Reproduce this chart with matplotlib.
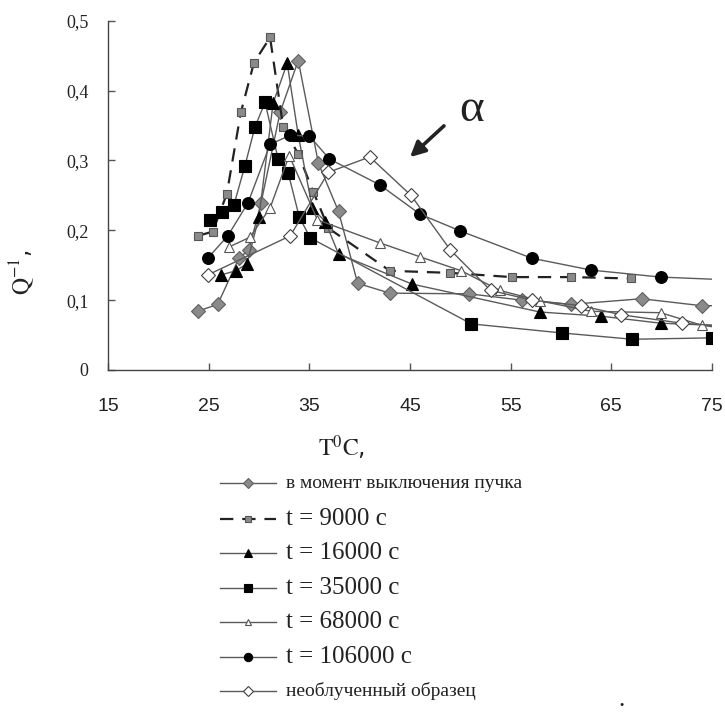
import matplotlib
matplotlib.use("Agg")
import matplotlib.pyplot as plt
from matplotlib.lines import Line2D

# ---------------- data ----------------
beam_T = [23.9, 25.9, 28.0, 29.0, 30.2, 32.1, 33.9, 35.9, 37.9, 39.8, 43.0, 50.9, 56.1, 61.0, 68.0, 74.0, 75.0]
beam_Q = [0.084, 0.094, 0.160, 0.172, 0.239, 0.369, 0.443, 0.296, 0.227, 0.124, 0.110, 0.109, 0.100, 0.094, 0.102, 0.092, 0.092]

t9_T = [23.9, 25.4, 26.8, 28.2, 29.5, 31.1, 32.4, 33.9, 35.4, 36.9, 43.0, 49.0, 55.1, 61.0, 67.0]
t9_Q = [0.192, 0.198, 0.252, 0.369, 0.440, 0.476, 0.348, 0.309, 0.255, 0.203, 0.142, 0.139, 0.133, 0.133, 0.131]

t16_T = [26.2, 27.7, 28.8, 30.0, 31.4, 32.8, 33.9, 35.3, 36.6, 37.9, 45.2, 57.9, 64.0, 69.9, 75.0]
t16_Q = [0.136, 0.142, 0.152, 0.219, 0.382, 0.439, 0.336, 0.232, 0.212, 0.166, 0.123, 0.083, 0.077, 0.067, 0.064]

t35_T = [25.1, 26.3, 27.5, 28.6, 29.6, 30.6, 31.9, 32.9, 34.0, 35.1, 51.1, 60.1, 67.1, 75.0]
t35_Q = [0.215, 0.226, 0.236, 0.292, 0.348, 0.383, 0.302, 0.282, 0.219, 0.189, 0.066, 0.053, 0.044, 0.046]

t68_T = [27.0, 29.1, 31.1, 33.0, 35.8, 42.0, 46.0, 50.1, 53.9, 57.9, 63.0, 69.9, 74.0, 75.0]
t68_Q = [0.176, 0.190, 0.232, 0.307, 0.215, 0.182, 0.162, 0.142, 0.114, 0.099, 0.084, 0.082, 0.064, 0.062]

t106_T = [24.9, 26.9, 28.9, 31.1, 33.1, 35.0, 37.0, 42.0, 46.0, 50.0, 57.1, 63.0, 69.9, 75.0]
t106_Q = [0.160, 0.192, 0.239, 0.323, 0.336, 0.335, 0.302, 0.265, 0.223, 0.199, 0.160, 0.143, 0.133, 0.130]

un_T = [24.9, 33.1, 36.9, 41.0, 45.1, 49.0, 53.0, 57.1, 62.0, 66.0, 72.0, 75.0]
un_Q = [0.136, 0.192, 0.283, 0.305, 0.250, 0.172, 0.114, 0.100, 0.092, 0.079, 0.067, 0.064]

x_ticks = [15, 25, 35, 45, 55, 65, 75]
y_ticks = [0, 0.1, 0.2, 0.3, 0.4, 0.5]
y_tick_labels = ["0", "0,1", "0,2", "0,3", "0,4", "0,5"]

labels = ["в момент выключения пучка", "t = 9000 c", "t = 16000 c", "t = 35000 c",
          "t = 68000 c", "t = 106000 c", "необлученный образец"]

# ---------------- styles ----------------
plt.rcParams['mathtext.fontset'] = 'stix'
SERIF = ['Liberation Serif', 'DejaVu Serif']
SANS = ['Liberation Sans', 'DejaVu Sans']
LC = '#5a5a5a'
GRAY = '#8a8a8a'

W, H = 725, 717
fig = plt.figure(figsize=(W / 100, H / 100), dpi=100)
L, R, T, B = 108, 712, 20.7, 370
ax = fig.add_axes([L / W, 1 - B / H, (R - L) / W, (B - T) / H])

def last_excluded(n):
    return list(range(n - 1))

styles = [
    dict(T=beam_T, Q=beam_Q, ls='-', lc=LC, lw=1.0, m='D', ms=7, mfc=GRAY, mec='#606060', mark=last_excluded(len(beam_T))),
    dict(T=t9_T, Q=t9_Q, ls=(0, (6, 4)), lc='#222222', lw=1.6, m='s', ms=5.5, mfc=GRAY, mec='#555555', mark=None),
    dict(T=t16_T, Q=t16_Q, ls='-', lc=LC, lw=1.0, m='^', ms=8.5, mfc='black', mec='black', mark=last_excluded(len(t16_T))),
    dict(T=t35_T, Q=t35_Q, ls='-', lc=LC, lw=1.0, m='s', ms=8, mfc='black', mec='black', mark=None),
    dict(T=t68_T, Q=t68_Q, ls='-', lc=LC, lw=1.0, m='^', ms=7, mfc='white', mec='#555555', mark=last_excluded(len(t68_T))),
    dict(T=t106_T, Q=t106_Q, ls='-', lc=LC, lw=1.0, m='o', ms=8.5, mfc='black', mec='black', mark=last_excluded(len(t106_T))),
    dict(T=un_T, Q=un_Q, ls='-', lc=LC, lw=1.0, m='D', ms=7, mfc='white', mec='#404040', mark=last_excluded(len(un_T))),
]

for s in styles:
    ax.plot(s['T'], s['Q'], linestyle=s['ls'], color=s['lc'], lw=s['lw'],
            marker=s['m'], ms=s['ms'], mfc=s['mfc'], mec=s['mec'], mew=0.8,
            markevery=s['mark'], clip_on=True)

ax.set_xlim(15, 75)
ax.set_ylim(0, 0.5)
for sp in ['top', 'right']:
    ax.spines[sp].set_visible(False)
for sp in ['left', 'bottom']:
    ax.spines[sp].set_color('#444444')
    ax.spines[sp].set_linewidth(1.0)

ax.set_xticks(x_ticks)
ax.set_xticklabels([str(v) for v in x_ticks])
ax.set_yticks(y_ticks)
ax.set_yticklabels(y_tick_labels)
ax.tick_params(axis='both', direction='in', length=5, width=1, color='#555555')
ax.tick_params(axis='x', pad=20)
ax.tick_params(axis='y', pad=14)
for t in ax.get_xticklabels():
    t.set_family(SANS); t.set_fontsize(14); t.set_color('#222222')
for t in ax.get_yticklabels():
    t.set_family(SERIF); t.set_fontsize(13); t.set_color('#222222')

# axis titles
fig.text(22 / W, 1 - 272 / H, r'$\mathrm{Q}^{-1}$,', rotation=90, fontsize=17,
         ha='center', va='center', color='#222222')
fig.text(342 / W, 1 - 448 / H, r'$\mathrm{T}^{0}\mathrm{C}$,', fontsize=17,
         ha='center', va='center', color='#222222')

# alpha annotation with arrow
fig.text(472 / W, 1 - 110 / H, 'α', fontsize=34, family=SERIF, ha='center', va='center', color='#222222')
ax.annotate('', xy=(408 / W, 1 - 159 / H), xycoords='figure fraction',
            xytext=(446 / W, 1 - 124 / H), textcoords='figure fraction',
            arrowprops=dict(arrowstyle='-|>,head_length=0.9,head_width=0.45', color='#222222', lw=2.6),
            annotation_clip=False)

# manual legend
rows_y = [483, 519, 553, 588, 622, 657, 691]
font_sizes = [14, 18, 18, 18, 18, 18, 14]
for i, (s, lab) in enumerate(zip(styles, labels)):
    y = 1 - rows_y[i] / H
    ln = Line2D([220 / W, 276 / W], [y, y], transform=fig.transFigure, linestyle=s['ls'],
                color=s['lc'], lw=s['lw'])
    fig.add_artist(ln)
    mk = Line2D([248 / W], [y], transform=fig.transFigure, linestyle='none', marker=s['m'],
                ms=s['ms'] * 0.7, mfc=s['mfc'], mec=s['mec'], mew=0.8)
    fig.add_artist(mk)
    fig.text(286 / W, y, lab, fontsize=font_sizes[i], family=SERIF, ha='left', va='center',
             color='#222222')

fig.text(622 / W, 1 - 700 / H, '.', fontsize=18, family=SERIF, ha='center', va='center', color='#222222')

fig.savefig('out.png', dpi=100)
